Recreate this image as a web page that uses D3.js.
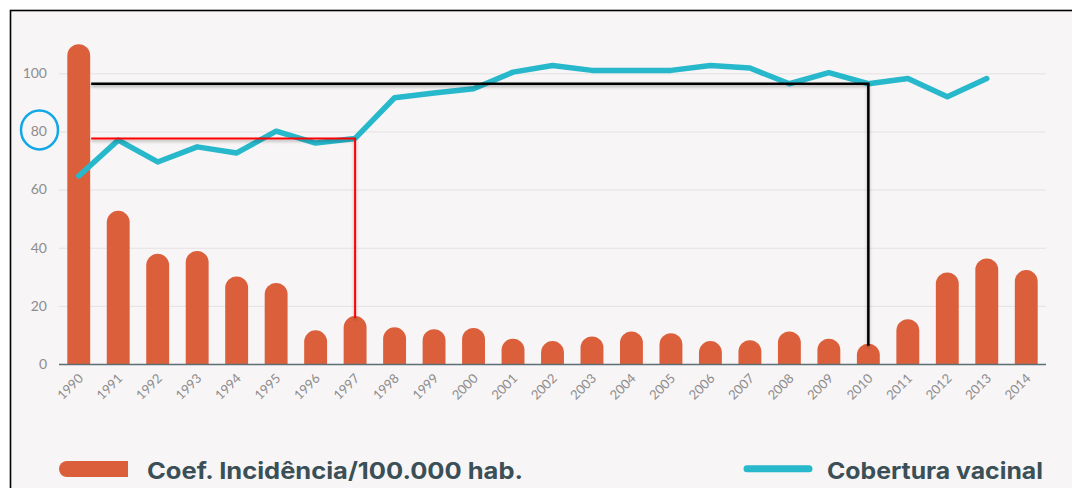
<!DOCTYPE html>
<html>
<head>
<meta charset="utf-8">
<script src="https://cdn.jsdelivr.net/npm/d3@7"></script>
<style>
  body { margin: 0; background: #fff; }
  svg { display: block; }
</style>
</head>
<body>
<script>
var width = 1072, height = 488;

// data
var years = ["1990","1991","1992","1993","1994","1995","1996","1997","1998","1999","2000","2001","2002",
             "2003","2004","2005","2006","2007","2008","2009","2010","2011","2012","2013","2014"];
var incidence = [110, 52.7, 37.9, 38.9, 30.1, 27.9, 11.6, 16.5, 12.6, 12.0, 12.4, 8.7, 7.9,
                 9.5, 11.2, 10.6, 7.9, 8.2, 11.2, 8.7, 7.0, 15.4, 31.5, 36.3, 32.3];
var coverage = [64.7, 77.0, 69.5, 74.7, 72.6, 80.1, 76.0, 77.6, 91.6, 93.2, 94.7, 100.4, 102.7,
                101.0, 101.0, 101.0, 102.7, 101.8, 96.4, 100.2, 96.4, 98.2, 91.9, 98.2, null];
var yTicks = [0, 20, 40, 60, 80, 100];
var marks = [{year: "1997", color: "#ff0000"}, {year: "2010", color: "#000000"}];
var legendLabels = ["Coef. Incidência/100.000 hab.", "Cobertura vacinal"];

var barColor = "#dc5f3c", lineColor = "#27b8cb", textDark = "#3a4f56";

var svg = d3.select("body").append("svg")
  .attr("width", width).attr("height", height);

var defs = svg.append("defs");
var f = defs.append("filter").attr("id", "shadow")
  .attr("x", "-5%").attr("y", "-5%").attr("width", "110%").attr("height", "120%");
f.append("feDropShadow").attr("dx", 0).attr("dy", 2).attr("stdDeviation", 1.5)
  .attr("flood-color", "#000").attr("flood-opacity", 0.3);

// frame
svg.append("rect")
  .attr("x", 10.5).attr("y", 10.5).attr("width", 1100).attr("height", 600)
  .attr("fill", "#f7f5f6").attr("stroke", "#000").attr("stroke-width", 1.6);

var x = d3.scaleBand().domain(years).range([59, 1046]).paddingInner(0.42).paddingOuter(0.21);
var y = d3.scaleLinear().domain([0, 100]).range([364, 73.3]);
var bw = x.bandwidth();

// gridlines
svg.append("g").selectAll("line")
  .data(yTicks.filter(function(d) { return d > 0; }))
  .enter().append("line")
  .attr("x1", 59).attr("x2", 1046)
  .attr("y1", function(d) { return y(d) + 0.5; })
  .attr("y2", function(d) { return y(d) + 0.5; })
  .attr("stroke", "#e4e1e2").attr("stroke-width", 1);

// y labels
svg.append("g").selectAll("text")
  .data(yTicks).enter().append("text")
  .attr("x", 47).attr("y", function(d) { return y(d); })
  .attr("dy", "0.35em")
  .attr("text-anchor", "end")
  .attr("font-family", "Lato, sans-serif").attr("font-weight", 400)
  .attr("font-size", 14).attr("fill", "#8e8c8d")
  .text(function(d) { return d; });

// bars with rounded tops
function barPath(d, i) {
  var x0 = x(years[i]), r = bw / 2, top = y(d), bottom = y(0);
  var h = bottom - top;
  if (h < r) r = h;
  return "M" + x0 + "," + bottom +
    "V" + (top + r) +
    "A" + (bw / 2) + "," + r + " 0 0 1 " + (x0 + bw) + "," + (top + r) +
    "V" + bottom + "Z";
}
svg.append("g").selectAll("path")
  .data(incidence).enter().append("path")
  .attr("d", barPath)
  .attr("fill", barColor);

// axis line
svg.append("line")
  .attr("x1", 59).attr("x2", 1046).attr("y1", y(0) + 0.5).attr("y2", y(0) + 0.5)
  .attr("stroke", "#5d6f74").attr("stroke-width", 1.5);

// x labels
svg.append("g").selectAll("text")
  .data(years).enter().append("text")
  .attr("transform", function(d) {
    return "translate(" + (x(d) + bw / 2 + 2) + "," + (y(0) + 12) + ") rotate(-45)";
  })
  .attr("text-anchor", "end")
  .attr("dy", "0.35em")
  .attr("font-family", "Lato, sans-serif").attr("font-weight", 400)
  .attr("font-size", 13).attr("fill", "#8e8c8d")
  .text(function(d) { return d; });

// coverage line
var line = d3.line()
  .defined(function(d) { return d != null; })
  .x(function(d, i) { return x(years[i]) + bw / 2; })
  .y(function(d) { return y(d); });
svg.append("path")
  .datum(coverage)
  .attr("d", line)
  .attr("fill", "none")
  .attr("stroke", lineColor).attr("stroke-width", 5.5)
  .attr("stroke-linejoin", "round").attr("stroke-linecap", "round");

// hand drawn markers
marks.forEach(function(m) {
  var i = years.indexOf(m.year);
  var cx = x(m.year) + bw / 2;
  var cy = y(coverage[i]);
  svg.append("path")
    .attr("d", "M" + (x(years[0]) + bw + 1) + "," + cy + "H" + cx + "V" + (y(incidence[i]) + 2))
    .attr("fill", "none")
    .attr("stroke", m.color).attr("stroke-width", m.color == "#000000" ? 2.5 : 2)
    .attr("filter", "url(#shadow)");
});

// circle around the 80 label
svg.append("ellipse")
  .attr("cx", 39.5).attr("cy", y(80) - 1.5)
  .attr("rx", 18.5).attr("ry", 19.5)
  .attr("fill", "none").attr("stroke", "#12a8e6").attr("stroke-width", 2.5);

// legend
var lg = svg.append("g");
lg.append("path")
  .attr("d", "M128,461V477H67A8,8 0 0 1 67,461Z")
  .attr("fill", barColor);
lg.append("text")
  .attr("x", 147).attr("y", 479)
  .attr("font-family", "Inter, sans-serif").attr("font-weight", 700)
  .attr("font-size", 23).attr("fill", textDark)
  .attr("textLength", 376).attr("lengthAdjust", "spacingAndGlyphs")
  .text(legendLabels[0]);
lg.append("line")
  .attr("x1", 747).attr("x2", 809).attr("y1", 468.7).attr("y2", 468.7)
  .attr("stroke", lineColor).attr("stroke-width", 7).attr("stroke-linecap", "round");
lg.append("text")
  .attr("x", 827).attr("y", 479)
  .attr("font-family", "Inter, sans-serif").attr("font-weight", 700)
  .attr("font-size", 23).attr("fill", textDark)
  .attr("textLength", 216).attr("lengthAdjust", "spacingAndGlyphs")
  .text(legendLabels[1]);
</script>
</body>
</html>
